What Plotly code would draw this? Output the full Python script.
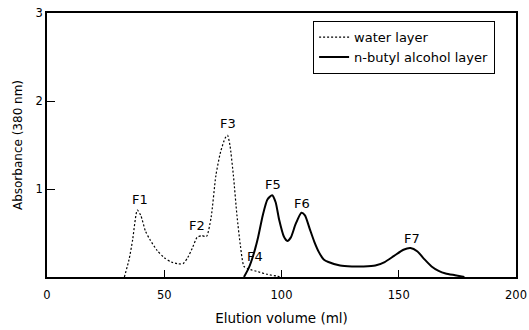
import plotly.graph_objects as go

# Water layer (dotted)
water_x = [33, 35, 36.5, 38.5, 40, 42, 44, 47, 50, 53, 56, 58, 60, 62, 64, 66, 68, 70, 72, 74, 76, 77, 78, 79.5, 81, 82.5, 84, 86, 90, 94, 98, 100]
water_y = [0, 0.2, 0.42, 0.76, 0.7, 0.52, 0.42, 0.3, 0.22, 0.17, 0.15, 0.15, 0.22, 0.33, 0.45, 0.47, 0.46, 0.68, 1.15, 1.42, 1.58, 1.61, 1.5, 1.15, 0.7, 0.35, 0.12, 0.09, 0.06, 0.03, 0.01, 0]

# n-butyl alcohol layer (solid)
butyl_x = [84, 86, 88, 90, 92, 94, 96, 97.5, 99, 101, 102.5, 104, 106, 108.5, 110, 112, 114, 116, 118, 120, 125, 130, 135, 140, 144, 148, 152, 155, 158, 161, 164, 167, 170, 174, 178]
butyl_y = [0, 0.1, 0.25, 0.45, 0.7, 0.88, 0.93, 0.85, 0.65, 0.46, 0.41, 0.45, 0.6, 0.73, 0.7, 0.55, 0.4, 0.28, 0.2, 0.17, 0.13, 0.12, 0.12, 0.13, 0.17, 0.24, 0.31, 0.33, 0.29, 0.2, 0.12, 0.07, 0.04, 0.02, 0]

# Fraction labels
frac_labels = ["F1", "F2", "F3", "F4", "F5", "F6", "F7"]
frac_x = [39.5, 64, 77, 88.5, 96.5, 108.7, 155.6]
frac_y = [0.88, 0.59, 1.75, 0.23, 1.05, 0.84, 0.44]

x_ticks = [0, 50, 100, 150, 200]
y_ticks = [1, 2, 3]

font_family = "DejaVu Sans, sans-serif"

fig = go.Figure()
fig.add_trace(go.Scatter(
    x=water_x, y=water_y, mode="lines", name="water layer",
    line=dict(color="black", width=1.2, dash="2px,2px", shape="spline", smoothing=0.6),
))
fig.add_trace(go.Scatter(
    x=butyl_x, y=butyl_y, mode="lines", name="n-butyl alcohol layer",
    line=dict(color="black", width=2, shape="spline", smoothing=0.6),
))

for lab, xx, yy in zip(frac_labels, frac_x, frac_y):
    fig.add_annotation(x=xx, y=yy, text=lab, showarrow=False,
                       font=dict(size=13, color="black", family=font_family))

fig.update_layout(
    template="none",
    width=529, height=330,
    margin=dict(l=47, r=13, t=13, b=53),
    paper_bgcolor="white", plot_bgcolor="white",
    font=dict(family=font_family, size=12, color="black"),
    showlegend=True,
    legend=dict(
        x=0.955, y=0.97, xanchor="right", yanchor="top",
        bordercolor="black", borderwidth=1.2, bgcolor="white",
        font=dict(size=13, family=font_family),
        tracegroupgap=0, itemwidth=30,
    ),
    xaxis=dict(
        range=[0, 200], tickvals=x_ticks, ticks="inside", ticklen=7,
        tickcolor="black", showline=True, linecolor="black", linewidth=1.5,
        mirror=True, showgrid=False, zeroline=False, automargin=False,
        ticklabelstandoff=6,
        title=dict(text="Elution volume (ml)", font=dict(size=13.5), standoff=13),
        tickfont=dict(size=11.5),
    ),
    yaxis=dict(
        range=[0, 3], tickvals=y_ticks, ticks="inside", ticklen=8,
        tickcolor="black", showline=True, linecolor="black", linewidth=1.5,
        mirror=True, showgrid=False, zeroline=False, automargin=False,
        title=dict(text="Absorbance (380 nm)", font=dict(size=12), standoff=10),
        tickfont=dict(size=11.5),
    ),
)

fig.write_html("out.html")
